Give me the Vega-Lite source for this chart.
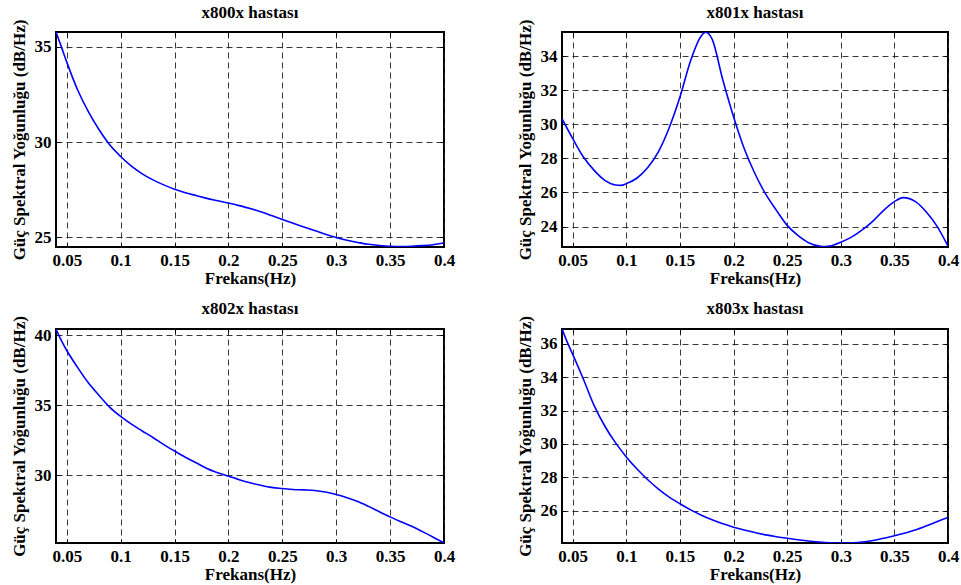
{
  "$schema": "https://vega.github.io/schema/vega-lite/v6.json",
  "background": "white",
  "padding": {"left": 8, "top": 2, "right": 3, "bottom": 3},
  "config": {
    "font": "Liberation Serif",
    "view": {"stroke": "#000", "strokeWidth": 2},
    "title": {"font": "Liberation Serif", "fontSize": 17, "fontWeight": "bold", "color": "#000", "offset": -3},
    "axis": {
      "labelFont": "Liberation Serif", "labelFontSize": 17, "labelFontWeight": "bold", "labelColor": "#000",
      "titleFont": "Liberation Serif", "titleFontSize": 17, "titleFontWeight": "bold", "titleColor": "#000",
      "domain": false, "tickColor": "#000", "tickSize": -4, "tickWidth": 1,
      "gridColor": "#222", "gridDash": [6, 4], "gridWidth": 1, "gridOpacity": 0.9,
      "labelPadding": 9, "titlePadding": 2, "labelFlush": false, "labelOverlap": false
    },
    "axisY": {"titlePadding": 6}
  },
  "datasets": {
    "p800": [
      {"f": 0.04, "v": 35.78}, {"f": 0.045, "v": 35.0}, {"f": 0.05, "v": 34.2}, {"f": 0.06, "v": 32.75},
      {"f": 0.07, "v": 31.6}, {"f": 0.08, "v": 30.65}, {"f": 0.09, "v": 29.85}, {"f": 0.1, "v": 29.25},
      {"f": 0.11, "v": 28.74}, {"f": 0.12, "v": 28.34}, {"f": 0.13, "v": 28.02}, {"f": 0.14, "v": 27.76},
      {"f": 0.15, "v": 27.53}, {"f": 0.16, "v": 27.35}, {"f": 0.17, "v": 27.2}, {"f": 0.18, "v": 27.05},
      {"f": 0.19, "v": 26.93}, {"f": 0.2, "v": 26.81}, {"f": 0.21, "v": 26.67}, {"f": 0.22, "v": 26.52},
      {"f": 0.23, "v": 26.35}, {"f": 0.24, "v": 26.15}, {"f": 0.25, "v": 25.94}, {"f": 0.26, "v": 25.74},
      {"f": 0.27, "v": 25.55}, {"f": 0.28, "v": 25.36}, {"f": 0.29, "v": 25.17}, {"f": 0.3, "v": 25.0},
      {"f": 0.31, "v": 24.85}, {"f": 0.32, "v": 24.74}, {"f": 0.33, "v": 24.64}, {"f": 0.34, "v": 24.58},
      {"f": 0.35, "v": 24.54}, {"f": 0.36, "v": 24.53}, {"f": 0.37, "v": 24.54}, {"f": 0.38, "v": 24.57},
      {"f": 0.39, "v": 24.62}, {"f": 0.4, "v": 24.72}
    ],
    "p801": [
      {"f": 0.04, "v": 30.33}, {"f": 0.05, "v": 29.16}, {"f": 0.06, "v": 28.08}, {"f": 0.07, "v": 27.3},
      {"f": 0.08, "v": 26.71}, {"f": 0.09, "v": 26.44}, {"f": 0.095, "v": 26.42}, {"f": 0.1, "v": 26.52},
      {"f": 0.11, "v": 26.85}, {"f": 0.12, "v": 27.46}, {"f": 0.13, "v": 28.4}, {"f": 0.14, "v": 29.8},
      {"f": 0.15, "v": 31.6}, {"f": 0.16, "v": 33.75}, {"f": 0.17, "v": 35.2}, {"f": 0.174, "v": 35.41},
      {"f": 0.18, "v": 35.0}, {"f": 0.19, "v": 32.6}, {"f": 0.2, "v": 30.45}, {"f": 0.21, "v": 28.57},
      {"f": 0.22, "v": 27.1}, {"f": 0.23, "v": 25.9}, {"f": 0.24, "v": 24.95}, {"f": 0.25, "v": 24.07},
      {"f": 0.26, "v": 23.48}, {"f": 0.27, "v": 23.05}, {"f": 0.28, "v": 22.85}, {"f": 0.285, "v": 22.82},
      {"f": 0.29, "v": 22.85}, {"f": 0.3, "v": 23.08}, {"f": 0.31, "v": 23.38}, {"f": 0.32, "v": 23.8},
      {"f": 0.33, "v": 24.32}, {"f": 0.34, "v": 24.95}, {"f": 0.35, "v": 25.46}, {"f": 0.358, "v": 25.7},
      {"f": 0.37, "v": 25.45}, {"f": 0.38, "v": 24.84}, {"f": 0.39, "v": 24.0}, {"f": 0.4, "v": 22.85}
    ],
    "p802": [
      {"f": 0.04, "v": 40.43}, {"f": 0.045, "v": 39.6}, {"f": 0.05, "v": 38.9}, {"f": 0.06, "v": 37.7},
      {"f": 0.07, "v": 36.6}, {"f": 0.08, "v": 35.7}, {"f": 0.09, "v": 34.85}, {"f": 0.1, "v": 34.2},
      {"f": 0.11, "v": 33.65}, {"f": 0.12, "v": 33.17}, {"f": 0.13, "v": 32.7}, {"f": 0.14, "v": 32.2},
      {"f": 0.15, "v": 31.74}, {"f": 0.16, "v": 31.3}, {"f": 0.17, "v": 30.9}, {"f": 0.18, "v": 30.5},
      {"f": 0.19, "v": 30.2}, {"f": 0.2, "v": 29.95}, {"f": 0.21, "v": 29.7}, {"f": 0.22, "v": 29.48},
      {"f": 0.23, "v": 29.3}, {"f": 0.24, "v": 29.15}, {"f": 0.25, "v": 29.07}, {"f": 0.26, "v": 29.0},
      {"f": 0.27, "v": 28.97}, {"f": 0.28, "v": 28.93}, {"f": 0.29, "v": 28.82}, {"f": 0.3, "v": 28.64},
      {"f": 0.31, "v": 28.42}, {"f": 0.32, "v": 28.15}, {"f": 0.33, "v": 27.8}, {"f": 0.34, "v": 27.42},
      {"f": 0.35, "v": 27.05}, {"f": 0.36, "v": 26.7}, {"f": 0.37, "v": 26.38}, {"f": 0.38, "v": 26.0},
      {"f": 0.39, "v": 25.6}, {"f": 0.4, "v": 25.19}
    ],
    "p803": [
      {"f": 0.04, "v": 36.9}, {"f": 0.045, "v": 36.1}, {"f": 0.05, "v": 35.38}, {"f": 0.06, "v": 33.88},
      {"f": 0.07, "v": 32.3}, {"f": 0.08, "v": 31.06}, {"f": 0.09, "v": 30.06}, {"f": 0.1, "v": 29.22},
      {"f": 0.11, "v": 28.49}, {"f": 0.12, "v": 27.85}, {"f": 0.13, "v": 27.29}, {"f": 0.14, "v": 26.81},
      {"f": 0.15, "v": 26.41}, {"f": 0.16, "v": 26.04}, {"f": 0.17, "v": 25.72}, {"f": 0.18, "v": 25.44},
      {"f": 0.19, "v": 25.2}, {"f": 0.2, "v": 25.0}, {"f": 0.21, "v": 24.83}, {"f": 0.22, "v": 24.68},
      {"f": 0.23, "v": 24.54}, {"f": 0.24, "v": 24.43}, {"f": 0.25, "v": 24.34}, {"f": 0.26, "v": 24.25},
      {"f": 0.27, "v": 24.17}, {"f": 0.28, "v": 24.1}, {"f": 0.29, "v": 24.06}, {"f": 0.3, "v": 24.05},
      {"f": 0.31, "v": 24.06}, {"f": 0.32, "v": 24.1}, {"f": 0.33, "v": 24.2}, {"f": 0.34, "v": 24.34},
      {"f": 0.35, "v": 24.48}, {"f": 0.36, "v": 24.65}, {"f": 0.37, "v": 24.84}, {"f": 0.38, "v": 25.08},
      {"f": 0.39, "v": 25.34}, {"f": 0.4, "v": 25.58}
    ]
  },
  "columns": 2,
  "spacing": {"row": 82, "column": 118},
  "bounds": "flush",
  "concat": [
    {
      "title": "x800x hastası",
      "width": 388, "height": 215,
      "data": {"name": "p800"},
      "layer": [
        {
          "mark": {"type": "line", "color": "#0000ff", "strokeWidth": 1.6, "interpolate": "monotone", "clip": true},
          "encoding": {
            "x": {"field": "f", "type": "quantitative", "scale": {"domain": [0.04, 0.4], "nice": false, "zero": false},
                  "axis": {"title": "Frekans(Hz)", "values": [0.05, 0.1, 0.15, 0.2, 0.25, 0.3, 0.35, 0.4], "format": "~g"}},
            "y": {"field": "v", "type": "quantitative", "scale": {"domain": [24.5, 35.78], "nice": false, "zero": false},
                  "axis": {"title": "Güç Spektral Yoğunluğu (dB/Hz)", "values": [25, 30, 35], "format": "~g"}}
          }
        },
        {
          "mark": {"type": "line", "opacity": 0},
          "encoding": {
            "x": {"field": "f", "type": "quantitative", "axis": {"orient": "top", "title": null, "labels": false, "grid": false, "values": [0.05, 0.1, 0.15, 0.2, 0.25, 0.3, 0.35, 0.4]}},
            "y": {"field": "v", "type": "quantitative", "axis": {"orient": "right", "title": null, "labels": false, "grid": false, "values": [25, 30, 35]}}
          }
        }
      ],
      "resolve": {"axis": {"x": "independent", "y": "independent"}}
    },
    {
      "title": "x801x hastası",
      "width": 386, "height": 215,
      "data": {"name": "p801"},
      "layer": [
        {
          "mark": {"type": "line", "color": "#0000ff", "strokeWidth": 1.6, "interpolate": "monotone", "clip": true},
          "encoding": {
            "x": {"field": "f", "type": "quantitative", "scale": {"domain": [0.04, 0.4], "nice": false, "zero": false},
                  "axis": {"title": "Frekans(Hz)", "values": [0.05, 0.1, 0.15, 0.2, 0.25, 0.3, 0.35, 0.4], "format": "~g"}},
            "y": {"field": "v", "type": "quantitative", "scale": {"domain": [22.8, 35.42], "nice": false, "zero": false},
                  "axis": {"title": "Güç Spektral Yoğunluğu (dB/Hz)", "values": [24, 26, 28, 30, 32, 34], "format": "~g"}}
          }
        },
        {
          "mark": {"type": "line", "opacity": 0},
          "encoding": {
            "x": {"field": "f", "type": "quantitative", "axis": {"orient": "top", "title": null, "labels": false, "grid": false, "values": [0.05, 0.1, 0.15, 0.2, 0.25, 0.3, 0.35, 0.4]}},
            "y": {"field": "v", "type": "quantitative", "axis": {"orient": "right", "title": null, "labels": false, "grid": false, "values": [24, 26, 28, 30, 32, 34]}}
          }
        }
      ],
      "resolve": {"axis": {"x": "independent", "y": "independent"}}
    },
    {
      "title": "x802x hastası",
      "width": 388, "height": 214,
      "data": {"name": "p802"},
      "layer": [
        {
          "mark": {"type": "line", "color": "#0000ff", "strokeWidth": 1.6, "interpolate": "monotone", "clip": true},
          "encoding": {
            "x": {"field": "f", "type": "quantitative", "scale": {"domain": [0.04, 0.4], "nice": false, "zero": false},
                  "axis": {"title": "Frekans(Hz)", "values": [0.05, 0.1, 0.15, 0.2, 0.25, 0.3, 0.35, 0.4], "format": "~g"}},
            "y": {"field": "v", "type": "quantitative", "scale": {"domain": [25.19, 40.43], "nice": false, "zero": false},
                  "axis": {"title": "Güç Spektral Yoğunluğu (dB/Hz)", "values": [30, 35, 40], "format": "~g"}}
          }
        },
        {
          "mark": {"type": "line", "opacity": 0},
          "encoding": {
            "x": {"field": "f", "type": "quantitative", "axis": {"orient": "top", "title": null, "labels": false, "grid": false, "values": [0.05, 0.1, 0.15, 0.2, 0.25, 0.3, 0.35, 0.4]}},
            "y": {"field": "v", "type": "quantitative", "axis": {"orient": "right", "title": null, "labels": false, "grid": false, "values": [30, 35, 40]}}
          }
        }
      ],
      "resolve": {"axis": {"x": "independent", "y": "independent"}}
    },
    {
      "title": "x803x hastası",
      "width": 386, "height": 214,
      "data": {"name": "p803"},
      "layer": [
        {
          "mark": {"type": "line", "color": "#0000ff", "strokeWidth": 1.6, "interpolate": "monotone", "clip": true},
          "encoding": {
            "x": {"field": "f", "type": "quantitative", "scale": {"domain": [0.04, 0.4], "nice": false, "zero": false},
                  "axis": {"title": "Frekans(Hz)", "values": [0.05, 0.1, 0.15, 0.2, 0.25, 0.3, 0.35, 0.4], "format": "~g"}},
            "y": {"field": "v", "type": "quantitative", "scale": {"domain": [24.05, 36.9], "nice": false, "zero": false},
                  "axis": {"title": "Güç Spektral Yoğunluğu (dB/Hz)", "values": [26, 28, 30, 32, 34, 36], "format": "~g"}}
          }
        },
        {
          "mark": {"type": "line", "opacity": 0},
          "encoding": {
            "x": {"field": "f", "type": "quantitative", "axis": {"orient": "top", "title": null, "labels": false, "grid": false, "values": [0.05, 0.1, 0.15, 0.2, 0.25, 0.3, 0.35, 0.4]}},
            "y": {"field": "v", "type": "quantitative", "axis": {"orient": "right", "title": null, "labels": false, "grid": false, "values": [26, 28, 30, 32, 34, 36]}}
          }
        }
      ],
      "resolve": {"axis": {"x": "independent", "y": "independent"}}
    }
  ]
}
